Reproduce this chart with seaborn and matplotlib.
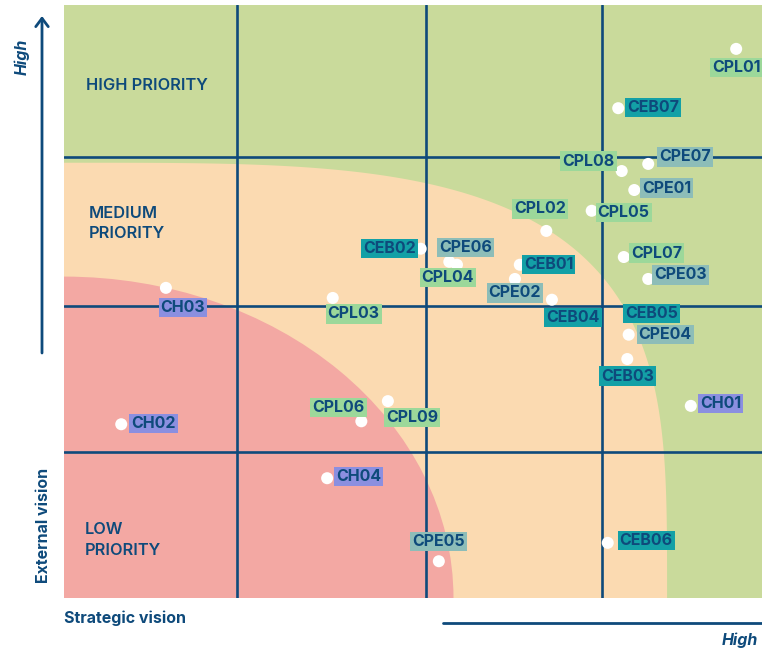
import numpy as np
import pandas as pd
import matplotlib.pyplot as plt
import seaborn as sns
from matplotlib.patches import Ellipse, Polygon
from matplotlib.lines import Line2D

# Project scores (strategic vision = x, external vision = y), 0-100 scale
names = ['CPL01', 'CEB07', 'CPL08', 'CPE07', 'CPE01', 'CPL05', 'CPL02', 'CEB02',
         'CPE06', 'CPL04', 'CEB01', 'CPE02', 'CEB04', 'CPL07', 'CPE03', 'CEB05',
         'CPE04', 'CEB03', 'CH03', 'CPL03', 'CH02', 'CPL06', 'CPL09', 'CH04',
         'CPE05', 'CEB06', 'CH01']
strategic = [96.3, 79.4, 79.9, 83.7, 81.7, 75.6, 69.1, 51.1,
             55.2, 56.3, 65.3, 64.6, 69.9, 80.2, 83.7, 84.2,
             80.9, 80.7, 14.6, 38.5, 8.2, 42.6, 46.4, 37.7,
             53.7, 77.9, 89.8]
external = [92.6, 82.6, 72.0, 73.2, 68.8, 65.3, 61.9, 58.9,
            56.7, 56.2, 56.2, 53.8, 50.3, 57.5, 53.8, 48.0,
            44.4, 40.3, 52.3, 50.6, 29.3, 29.8, 33.2, 20.2,
            6.2, 9.3, 32.4]

x_lines = [24.8, 51.9, 77.1]
y_lines = [24.6, 49.2, 74.4]

df = pd.DataFrame({'name': names, 'strategic': strategic, 'external': external})
df['group'] = df['name'].str.extract(r'^(CPL|CEB|CPE|CH)')

navy = '#0e4a7b'
box_colors = {'CPL': '#9cd89a', 'CEB': '#13a0a6', 'CPE': '#8dbdb8', 'CH': '#8b8fe0'}

# label placement: (dx, dy) pixels from the dot, horizontal alignment
label_pos = {
    'CPL01': (0, -19, 'center'), 'CEB07': (9, 1, 'left'), 'CPL08': (-7, 10, 'right'),
    'CPE07': (11, 7, 'left'), 'CPE01': (8, 2, 'left'), 'CPL05': (6, -2, 'left'),
    'CPL02': (-6, 22, 'center'), 'CEB02': (-5, 0, 'right'), 'CPE06': (-10, 14, 'left'),
    'CPL04': (-9, -13, 'center'), 'CEB01': (4, 0, 'left'), 'CPE02': (0, -14, 'center'),
    'CEB04': (21, -18, 'center'), 'CPL07': (7, 4, 'left'), 'CPE03': (6, 4, 'left'),
    'CEB05': (0, 0, 'center'), 'CPE04': (10, 0, 'left'), 'CEB03': (0, -17, 'center'),
    'CH03': (17, -20, 'center'), 'CPL03': (21, -16, 'center'), 'CH02': (10, 1, 'left'),
    'CPL06': (-23, 14, 'center'), 'CPL09': (24, -16, 'center'), 'CH04': (9, 2, 'left'),
    'CPE05': (0, 20, 'center'), 'CEB06': (12, 2, 'left'), 'CH01': (9, 2, 'left'),
}

sns.set_style("white")
plt.rcParams['font.family'] = ['Inter', 'DejaVu Sans']

fig = plt.figure(figsize=(7.62, 6.52), dpi=100)
ax = fig.add_axes([64 / 762, 54 / 652, 698 / 762, 593 / 652])
ax.set_xlim(0, 100)
ax.set_ylim(0, 100)
ax.set_facecolor('#c9da9b')

# priority zones
t = np.linspace(0, np.pi / 2, 200)
p = 3.6
zx = 86.4 * np.cos(t) ** (2 / p)
zy = 73.4 * np.sin(t) ** (2 / p)
ax.add_patch(Polygon(np.column_stack([np.r_[0, zx], np.r_[0, zy]]),
                     closed=True, fc='#fbdab1', ec='none', zorder=0))
ax.add_patch(Ellipse((0, 0), 2 * 55.8, 2 * 54.2, fc='#f3a8a3', ec='none', zorder=0.5))

for v in x_lines:
    ax.axvline(v, color=navy, lw=1.9, zorder=1)
for v in y_lines:
    ax.axhline(v, color=navy, lw=1.9, zorder=1)

sns.scatterplot(data=df, x='strategic', y='external', color='white', s=75,
                edgecolor='none', zorder=3, ax=ax, legend=False)

for _, r in df.iterrows():
    dx, dy, ha = label_pos[r['name']]
    ax.annotate(r['name'], (r['strategic'], r['external']), xytext=(dx, dy),
                textcoords='offset pixels', ha=ha, va='center', fontsize=11.5,
                fontweight='bold', color=navy, zorder=4,
                bbox=dict(boxstyle='square,pad=0.13', fc=box_colors[r['group']], ec='none'))

ax.text(3.2, 86.5, 'HIGH PRIORITY', fontsize=11.8, color=navy, fontweight='semibold', va='center')
ax.text(3.6, 63.2, 'MEDIUM\nPRIORITY', fontsize=11.8, color=navy, fontweight='semibold',
        va='center', linespacing=1.45)
ax.text(3.0, 9.8, 'LOW\nPRIORITY', fontsize=11.8, color=navy, fontweight='semibold',
        va='center', linespacing=1.45)

ax.set_xlabel('')
ax.set_ylabel('')
ax.set_xticks([])
ax.set_yticks([])
for s in ax.spines.values():
    s.set_visible(False)

# axis annotations outside the plot
ax.annotate('', xy=(42 / 762, 1 - 16 / 652), xytext=(42 / 762, 1 - 353 / 652),
            xycoords='figure fraction', textcoords='figure fraction',
            arrowprops=dict(arrowstyle='->,head_width=0.45,head_length=0.6',
                            lw=2, color=navy, shrinkA=0, shrinkB=0))
fig.add_artist(Line2D([443 / 762, 1.0], [1 - 623 / 652, 1 - 623 / 652],
                      transform=fig.transFigure, color=navy, lw=2))
fig.text(22 / 762, 1 - 57 / 652, 'High', rotation=90, fontsize=11.5, fontstyle='italic',
         fontweight='bold', color=navy, ha='center', va='center')
fig.text(44 / 762, 1 - 525 / 652, 'External vision', rotation=90, fontsize=11.5,
         fontweight='bold', color=navy, ha='center', va='center')
fig.text(64 / 762, 1 - 618 / 652, 'Strategic vision', fontsize=11.5,
         fontweight='bold', color=navy, ha='left', va='center')
fig.text(758 / 762, 1 - 640 / 652, 'High', fontsize=11.5, fontstyle='italic',
         fontweight='bold', color=navy, ha='right', va='center')

fig.savefig('out.png', dpi=100)
